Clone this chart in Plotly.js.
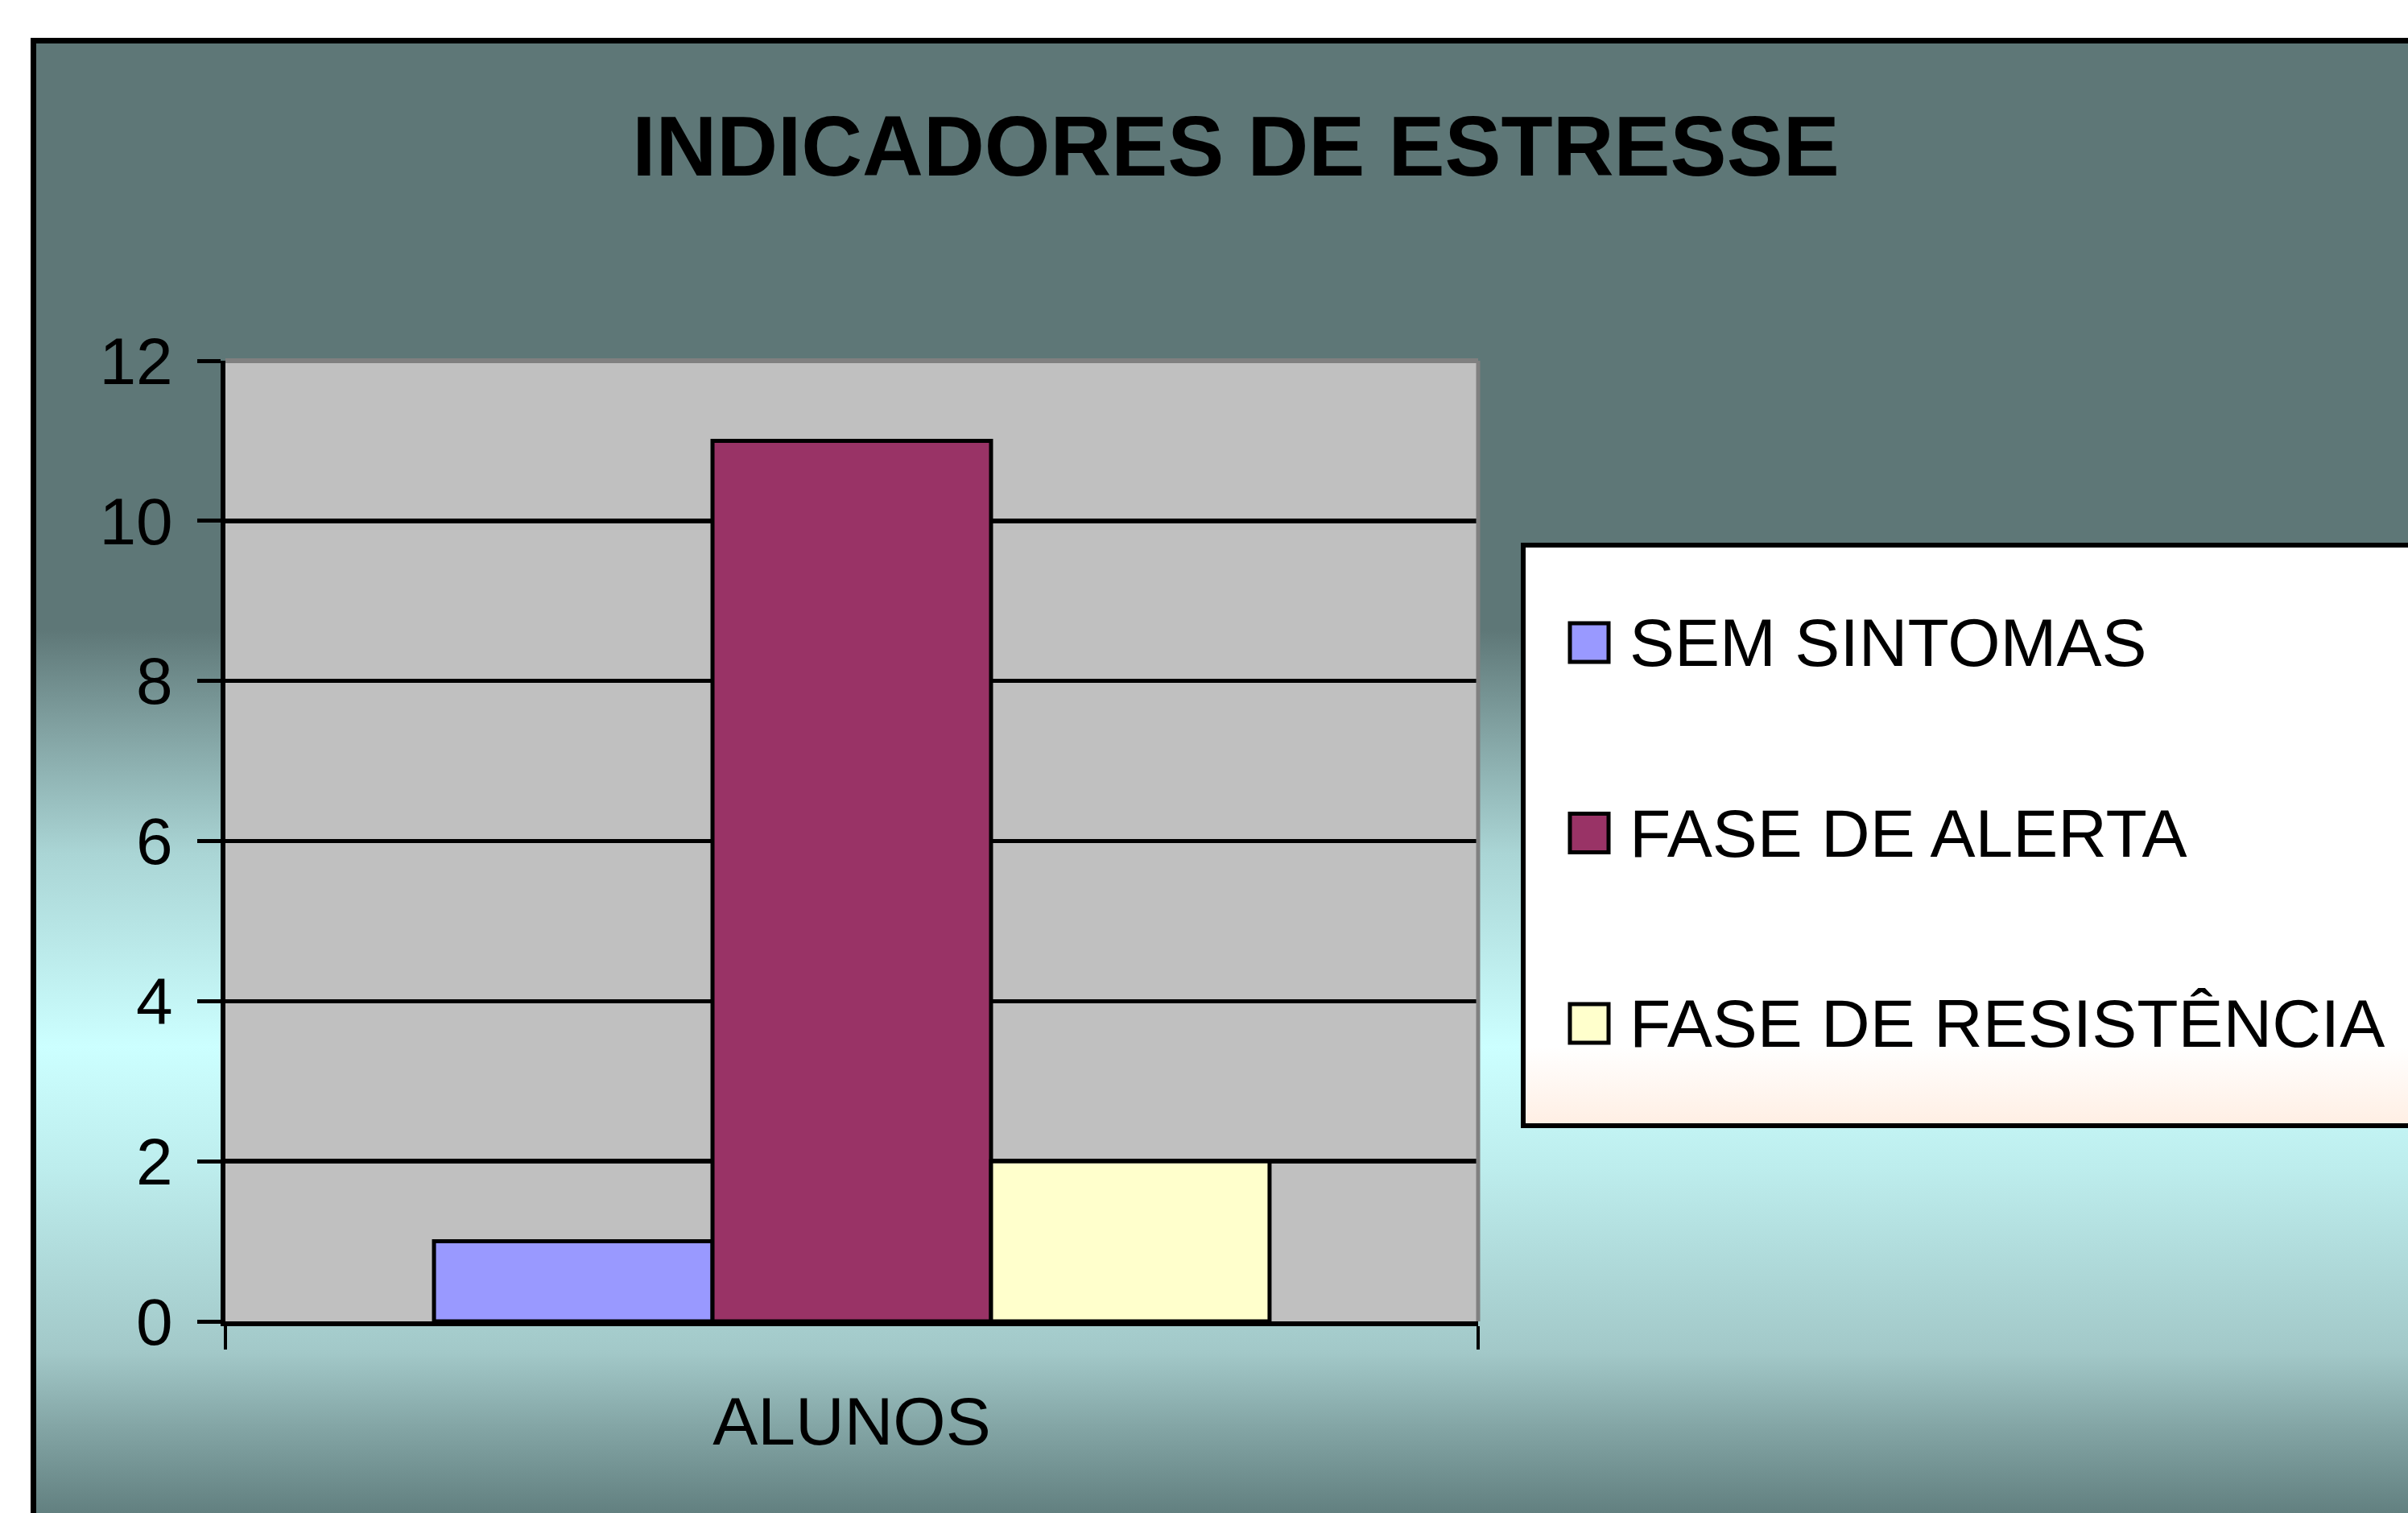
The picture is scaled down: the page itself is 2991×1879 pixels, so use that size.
<!DOCTYPE html>
<html>
<head>
<meta charset="utf-8">
<script src="https://cdn.plot.ly/plotly-3.0.1.min.js"></script>
<style>
  html, body { margin: 0; padding: 0; background: #ffffff; width: 2991px; height: 1879px; overflow: hidden; }
  #frame {
    position: absolute; left: 38px; top: 47px; width: 3100px; height: 2000px;
    border-left: 7px solid #000; border-top: 7px solid #000; z-index: 0;
    background: linear-gradient(to bottom,
      #5E7777 0px, #5E7777 728px, #80A0A0 846px, #AAD5D5 1006px,
      #CCFFFF 1246px, #BDEDED 1396px, #A2C8C8 1626px, #84A6A6 1716px, #628080 1825px, #5E7878 1946px);
  }
  #legendbox {
    position: absolute; left: 1889px; top: 674px; width: 1200px; height: 715px;
    border-left: 6px solid #000; border-top: 6px solid #000; border-bottom: 6px solid #000; z-index: 1;
    background: linear-gradient(to bottom, #ffffff 0px, #ffffff 620px, #FFEFE4 715px);
  }
  #chart { position: absolute; left: 0; top: 0; width: 2991px; height: 1879px; z-index: 2; }
</style>
</head>
<body>
<div id="frame"></div>
<div id="legendbox"></div>
<div id="chart"></div>
<script>
// ---- data ----
const categories = ['ALUNOS'];
const seriesNames = ['SEM SINTOMAS', 'FASE DE ALERTA', 'FASE DE RESISTÊNCIA'];
const semSintomas = [1];
const faseAlerta = [11];
const faseResistencia = [2];
const seriesColors = ['#9999FF', '#993366', '#FFFFCC'];
const yTicks = [0, 2, 4, 6, 8, 10, 12];
const chartTitle = 'INDICADORES DE ESTRESSE';

// ---- layout geometry (pixels) ----
const W = 2991, H = 1879;
const L = 280, R = 1836, T = 448, B = 1641;
const px2x = p => (p - L) / (R - L);
const py2y = p => (B - p) / (B - T);
const FONT = 'Liberation Sans, Arial, sans-serif';

const seriesValues = [semSintomas, faseAlerta, faseResistencia];
const traces = seriesNames.map((name, i) => ({
  type: 'bar',
  name: name,
  x: categories,
  y: seriesValues[i],
  marker: { color: seriesColors[i], line: { color: '#000000', width: 5 } },
  showlegend: false,
  hoverinfo: 'name+y'
}));

// custom legend (big square swatches like the original)
const legTop = 798, legStep = 236.5, swLeft = 1950, swSize = 48, txtLeft = 2022;
const shapes = [];
const annotations = [];
seriesNames.forEach((name, i) => {
  const cy = legTop + i * legStep;
  shapes.push({
    type: 'rect', xref: 'paper', yref: 'paper',
    x0: px2x(swLeft), x1: px2x(swLeft + swSize),
    y0: py2y(cy + swSize / 2), y1: py2y(cy - swSize / 2),
    fillcolor: seriesColors[i], line: { color: '#000000', width: 5 }
  });
  annotations.push({
    xref: 'paper', yref: 'paper', x: px2x(txtLeft), y: py2y(cy),
    xanchor: 'left', yanchor: 'middle', showarrow: false,
    text: name, font: { family: FONT, size: 84, color: '#000000' }
  });
});
// grey top/right border of plot area
shapes.push({ type: 'line', xref: 'paper', yref: 'paper', x0: 0, x1: 1, y0: 1, y1: 1, line: { color: '#808080', width: 6 } });
shapes.push({ type: 'line', xref: 'paper', yref: 'paper', x0: 1, x1: 1, y0: 0, y1: 1, line: { color: '#808080', width: 5 } });

const layout = {
  width: W, height: H,
  paper_bgcolor: 'rgba(0,0,0,0)',
  plot_bgcolor: '#C0C0C0',
  margin: { l: L, r: W - R, t: T, b: H - B, pad: 0, autoexpand: false },
  title: {
    text: '<b>' + chartTitle + '</b>',
    x: 1535 / W, xref: 'container', xanchor: 'center',
    y: 1 - 181 / H, yref: 'container', yanchor: 'middle',
    font: { family: FONT, size: 105, color: '#000000' }
  },
  barmode: 'group', bargap: 0.333, bargroupgap: 0,
  xaxis: {
    type: 'category', showgrid: false, zeroline: false,
    showline: true, linecolor: '#000000', linewidth: 6,
    ticks: 'outside', tickson: 'boundaries', ticklen: 29, tickwidth: 4, tickcolor: '#000000',
    tickfont: { family: FONT, size: 84, color: '#000000' },
    ticklabelstandoff: 46,
    automargin: false, fixedrange: true
  },
  yaxis: {
    range: [0, 12], tickvals: yTicks, ticktext: yTicks.map(String),
    showgrid: true, gridcolor: '#000000', gridwidth: 5.5,
    zeroline: false, showline: true, linecolor: '#000000', linewidth: 6,
    ticks: 'outside', ticklen: 29, tickwidth: 5, tickcolor: '#000000',
    tickfont: { family: FONT, size: 82, color: '#000000' },
    ticklabelstandoff: 14,
    automargin: false, fixedrange: true
  },
  shapes: shapes,
  annotations: annotations,
  showlegend: false
};

Plotly.newPlot('chart', traces, layout, { displayModeBar: false, staticPlot: true });
</script>
</body>
</html>
